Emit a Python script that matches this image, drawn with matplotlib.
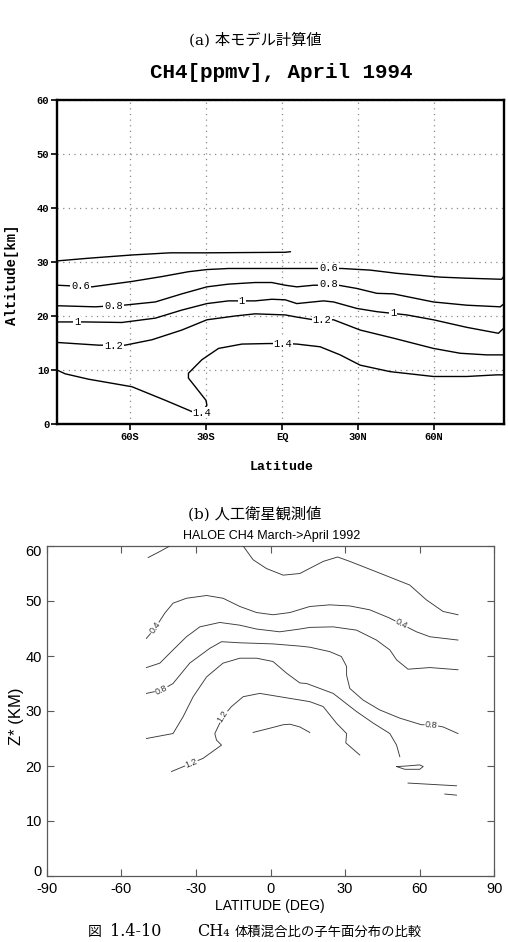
import matplotlib
matplotlib.use("Agg")
import matplotlib.pyplot as plt
from matplotlib.transforms import ScaledTranslation

# ---------------- Panel (a): model CH4 contours ----------------
a_lat_04 = [-88.9, -76.4, -59.3, -44.2, -29.7, 1.2, 3.2]
a_alt_04 = [30.2, 30.7, 31.3, 31.7, 31.7, 31.8, 31.9]

a_lat_06 = [-88.9, -75.1, -59.3, -47.5, -37.0, -29.7, -21.2, -0.8, 13.7, 23.6, 34.7, 45.3, 62.4, 72.9, 86.7, 87.4]
a_alt_06 = [25.7, 25.4, 26.4, 27.3, 28.2, 28.6, 28.8, 28.8, 28.8, 28.8, 28.5, 27.9, 27.2, 27.0, 26.8, 27.3]

a_lat_08 = [-88.9, -73.8, -62.6, -50.1, -39.6, -29.7, -21.2, -10.7, -4.1, 1.2, 5.8, 12.4, 22.2, 29.5, 37.4, 43.9, 59.7, 72.9, 86.1, 87.4]
a_alt_08 = [21.9, 21.7, 22.0, 22.6, 24.1, 25.4, 25.9, 26.2, 26.2, 25.7, 25.4, 25.7, 25.7, 25.1, 24.2, 24.1, 22.6, 22.0, 21.7, 22.2]

a_lat_10 = [-88.9, -77.8, -63.3, -50.1, -39.6, -29.7, -21.2, -10.7, -4.1, 1.2, 5.8, 16.3, 20.3, 29.5, 37.4, 49.2, 59.7, 72.9, 85.4, 87.4]
a_alt_10 = [18.9, 18.9, 18.8, 19.6, 21.1, 22.3, 22.8, 22.8, 23.1, 23.0, 22.3, 22.8, 22.6, 21.4, 20.8, 20.2, 19.3, 17.9, 16.8, 17.7]

a_lat_12 = [-88.9, -72.5, -62.0, -51.4, -39.6, -29.7, -18.6, -10.7, 1.2, 5.8, 12.4, 20.3, 30.8, 43.9, 59.7, 70.3, 80.8, 87.4]
a_alt_12 = [15.1, 14.6, 14.6, 15.6, 17.4, 19.3, 20.0, 20.4, 20.2, 19.8, 19.3, 19.3, 17.4, 15.9, 14.0, 13.1, 12.8, 12.8]

a_lat_14 = [-88.9, -85.7, -76.5, -59.3, -46.2, -35.6, -31.7, -29.7, -30.1, -34.3, -37.0, -37.0, -31.7,
            -25.1, -15.9, -5.4, 1.2, 5.8, 15.0, 22.9, 30.8, 42.6, 59.7, 72.9, 84.7, 87.4]
a_alt_14 = [10.0, 9.3, 8.3, 6.9, 4.4, 2.3, 2.1, 3.5, 4.4, 6.9, 8.5, 9.4, 11.9,
            14.0, 14.8, 14.9, 14.9, 14.8, 14.3, 12.8, 10.9, 9.7, 8.8, 8.8, 9.1, 9.1]

a_label_text = ["0.6", "0.8", "1", "1.2", "1.4", "1", "0.6", "0.8", "1.2", "1", "1.4"]
a_label_lat = [-79.7, -66.6, -81.0, -66.6, -31.7, -15.9, 18.3, 18.3, 15.7, 43.9, 0.3]
a_label_alt = [25.5, 21.8, 18.9, 14.5, 2.1, 22.8, 28.8, 25.9, 19.3, 20.5, 14.9]

a_xticks = [-60, -30, 0, 30, 60]
a_xticklabels = ["60S", "30S", "EQ", "30N", "60N"]
a_yticks = [0, 10, 20, 30, 40, 50, 60]

# ---------------- Panel (b): HALOE CH4 contours ----------------
b_lat_02a = [-49.2, -44.5, -40.5]
b_alt_02a = [57.9, 59.0, 60.0]
b_lat_02b = [-11.0, -7.0, -1.6, 5.1, 11.8, 21.2, 27.0, 31.9, 42.6, 56.0, 62.7, 69.4, 75.4]
b_alt_02b = [60.0, 57.5, 55.9, 54.7, 55.0, 57.2, 58.0, 57.2, 55.3, 52.9, 50.2, 48.1, 47.5]

b_lat_04 = [-49.9, -46.5, -42.5, -39.2, -33.8, -25.7, -19.1, -12.3, -5.6, 1.0, 7.8, 15.8, 23.8, 31.9, 39.9, 47.9, 52.6, 58.7, 64.1, 75.4]
b_alt_04 = [43.2, 45.0, 47.8, 49.6, 50.5, 51.0, 50.5, 49.0, 47.9, 47.5, 47.9, 49.0, 49.3, 49.1, 48.4, 46.9, 45.8, 44.4, 43.5, 42.9]

b_lat_06 = [-49.9, -44.5, -39.2, -33.8, -28.4, -20.4, -12.3, -5.6, 3.7, 11.8, 15.8, 25.2, 34.6, 42.6, 48.0, 50.7, 55.3, 64.1, 75.4]
b_alt_06 = [37.9, 38.7, 41.1, 43.5, 45.3, 46.1, 45.6, 44.9, 44.4, 44.9, 45.2, 45.3, 44.7, 42.9, 41.1, 39.3, 37.6, 37.9, 37.5]

b_lat_08 = [-49.9, -43.8, -39.2, -32.5, -24.4, -19.7, -12.3, 1.0, 11.8, 15.8, 23.8, 28.5, 30.6, 30.6, 31.9, 37.2, 43.9, 52.0, 60.7, 64.7, 69.4, 75.4]
b_alt_08 = [33.2, 33.8, 35.0, 38.7, 41.4, 42.6, 42.4, 42.2, 41.8, 41.6, 40.8, 39.9, 38.1, 36.5, 34.1, 32.0, 30.2, 28.7, 27.5, 27.5, 27.1, 25.9]

b_lat_10 = [-49.9, -39.2, -35.1, -31.1, -25.7, -19.1, -12.3, -5.6, 1.0, 6.4, 11.8, 14.5, 25.2, 34.6, 41.3, 48.0, 50.7, 52.0]
b_alt_10 = [25.0, 25.9, 29.0, 32.6, 36.2, 38.7, 39.6, 39.6, 39.0, 36.9, 35.1, 35.0, 33.2, 29.9, 27.8, 25.9, 23.8, 21.7]

b_lat_12 = [-39.8, -31.8, -27.1, -19.7, -21.7, -22.4, -19.1, -15.7, -11.0, -4.3, 3.7, 11.8, 15.8, 21.2, 26.5, 30.6, 30.3, 35.9]
b_alt_12 = [19.0, 20.5, 21.4, 23.8, 24.7, 25.9, 29.0, 30.8, 32.6, 33.2, 32.6, 32.0, 31.7, 30.8, 27.8, 25.9, 24.2, 22.0]

b_lat_14 = [-7.0, 0.0, 5.1, 7.8, 11.8, 15.8]
b_alt_14 = [26.1, 26.9, 27.5, 27.6, 27.1, 26.1]

b_lat_loop = [50.7, 54.0, 60.0, 61.4, 60.0, 54.7, 50.7]
b_alt_loop = [19.9, 19.4, 19.4, 19.9, 20.2, 20.0, 19.9]

b_lat_seg1 = [55.3, 74.8]
b_alt_seg1 = [16.9, 16.4]
b_lat_seg2 = [70.1, 74.8]
b_alt_seg2 = [14.9, 14.7]

b_label_text = ["0.4", "0.8", "1.2", "1.2", "0.4", "0.8"]
b_label_lat = [-46.5, -43.8, -19.1, -31.8, 52.7, 64.7]
b_label_alt = [45.1, 33.8, 29.0, 20.5, 45.8, 27.5]
b_label_rot = [54, 25, 58, 22, -28, -5]

b_xticks = [-90, -60, -30, 0, 30, 60, 90]
b_yticks = [0, 10, 20, 30, 40, 50, 60]

# ---------------- Figure ----------------
W, H = 508, 942
fig = plt.figure(figsize=(W / 100, H / 100), dpi=100)
fig.patch.set_facecolor("white")

cjk = ["Noto Sans CJK JP", "DejaVu Sans"]
serif_cjk = ["DejaVu Serif", "Noto Sans CJK JP"]
mono = "Liberation Mono"
sans = "Liberation Sans"

def fx(px):
    return px / W

def fy(py):
    return 1 - py / H

# ---- panel (a)
axa = fig.add_axes([fx(57), fy(424), fx(503.5) - fx(57), fy(100) - fy(424)])
axa.set_xlim(-88.9, 87.4)
axa.set_ylim(0, 60)
axa.set_xticks(a_xticks)
axa.set_xticklabels(a_xticklabels)
axa.set_yticks(a_yticks)
axa.set_yticklabels([str(v) for v in a_yticks])
axa.grid(True, linestyle=(0, (1, 3.5)), color="#8a8a8a", linewidth=0.9)
axa.set_axisbelow(True)
for s in axa.spines.values():
    s.set_linewidth(1.7)
    s.set_color("black")
axa.tick_params(direction="out", length=4, width=1.2, labelsize=7.5, pad=1.5)
for lab in axa.get_xticklabels() + axa.get_yticklabels():
    lab.set_fontfamily(mono)
    lab.set_fontweight("bold")

a_lines = [(a_lat_04, a_alt_04), (a_lat_06, a_alt_06), (a_lat_08, a_alt_08),
           (a_lat_10, a_alt_10), (a_lat_12, a_alt_12), (a_lat_14, a_alt_14)]
for la, al in a_lines:
    axa.plot(la, al, color="black", linewidth=1.0, solid_joinstyle="round", zorder=3)
for t, la, al in zip(a_label_text, a_label_lat, a_label_alt):
    axa.text(la, al, t, fontsize=7.5, fontfamily=mono, ha="center", va="center", zorder=4,
             bbox=dict(facecolor="white", edgecolor="none", pad=0.6))

fig.text(fx(255), fy(40), "(a) 本モデル計算値", fontsize=11, family=serif_cjk, ha="center", va="center")
fig.text(fx(281.5), fy(72), "CH4[ppmv], April 1994", fontsize=15, fontfamily=mono,
         fontweight="bold", ha="center", va="center")
fig.text(fx(12), fy(275), "Altitude[km]", fontsize=10, fontfamily=mono, fontweight="bold",
         rotation=90, ha="center", va="center")
fig.text(fx(282), fy(466.7), "Latitude", fontsize=9.5, fontfamily=mono, fontweight="bold",
         ha="center", va="center")

# ---- panel (b)
axb = fig.add_axes([fx(46.7), fy(876), fx(494.3) - fx(46.7), fy(546) - fy(876)])
axb.set_xlim(-90, 90)
axb.set_ylim(0, 60)
axb.set_xticks(b_xticks)
axb.set_xticklabels([str(v) for v in b_xticks])
axb.set_yticks(b_yticks)
axb.set_yticklabels([str(v) for v in b_yticks])
for s in axb.spines.values():
    s.set_linewidth(0.9)
    s.set_color("#5a5a5a")
axb.tick_params(direction="in", length=5, width=0.8, color="#5a5a5a", labelsize=10.5,
                top=True, right=True, pad=4.5)
axb.tick_params(axis="y", pad=3.5)
for lab in axb.get_xticklabels() + axb.get_yticklabels():
    lab.set_fontfamily(sans)
# as in the reference, the end labels of the y axis sit slightly inside the range
yt = axb.yaxis.get_major_ticks()
yt[0].label1.set_transform(yt[0].label1.get_transform() + ScaledTranslation(0, 5 / 100, fig.dpi_scale_trans))
yt[-1].label1.set_transform(yt[-1].label1.get_transform() + ScaledTranslation(0, -4 / 100, fig.dpi_scale_trans))

b_lines = [(b_lat_02a, b_alt_02a), (b_lat_02b, b_alt_02b), (b_lat_04, b_alt_04),
           (b_lat_06, b_alt_06), (b_lat_08, b_alt_08), (b_lat_10, b_alt_10),
           (b_lat_12, b_alt_12), (b_lat_14, b_alt_14), (b_lat_loop, b_alt_loop),
           (b_lat_seg1, b_alt_seg1), (b_lat_seg2, b_alt_seg2)]
for la, al in b_lines:
    axb.plot(la, al, color="#3a3a3a", linewidth=0.65, zorder=3)
for t, la, al, r in zip(b_label_text, b_label_lat, b_label_alt, b_label_rot):
    axb.text(la, al, t, fontsize=6.5, fontfamily=sans, color="#333333", rotation=r,
             rotation_mode="anchor", ha="center", va="center", zorder=4,
             bbox=dict(facecolor="white", edgecolor="none", pad=0.4))

fig.text(fx(255), fy(514), "(b) 人工衛星観測値", fontsize=11, family=serif_cjk, ha="center", va="center")
fig.text(fx(272), fy(536.5), "HALOE CH4 March->April 1992", fontsize=9, fontfamily=sans,
         ha="center", va="center")
fig.text(fx(17), fy(716), "Z* (KM)", fontsize=12, fontfamily=sans, rotation=90,
         ha="center", va="center")
fig.text(fx(270), fy(906), "LATITUDE (DEG)", fontsize=10, fontfamily=sans, ha="center", va="center")

# ---- figure caption, in pieces to follow the reference spacing
fig.text(fx(88), fy(932), "図", fontsize=10, family=cjk, ha="left", va="center")
fig.text(fx(110), fy(932), "1.4-10", fontsize=11.5, family=serif_cjk, ha="left", va="center")
fig.text(fx(197), fy(932), "CH₄", fontsize=11.5, family=serif_cjk, ha="left", va="center")
fig.text(fx(235), fy(932), "体積混合比の子午面分布の比較", fontsize=9.6, family=cjk,
         ha="left", va="center")

fig.savefig("out.png", dpi=100, facecolor="white")
